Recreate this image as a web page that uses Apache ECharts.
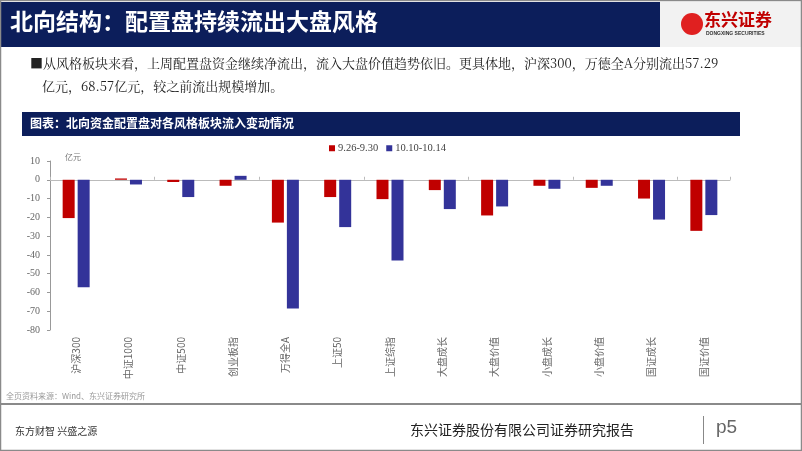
<!DOCTYPE html>
<html><head><meta charset="utf-8">
<script src="https://cdn.jsdelivr.net/npm/echarts@6/dist/echarts.min.js"></script>
<style>html,body{margin:0;padding:0;background:#fff}#c{width:802px;height:451px}</style>
</head><body><div id="c"></div>
<script>
const categories = ['沪深300','中证1000','中证500','创业板指','万得全A','上证50','上证综指','大盘成长','大盘价值','小盘成长','小盘价值','国证成长','国证价值'];
const seriesNames = ['9.26-9.30','10.10-10.14'];
const week1 = [-20.4, 0.7, -1.2, -3.2, -22.8, -9.2, -10.3, -5.5, -19.0, -3.2, -4.3, -10.0, -27.2];
const week2 = [-57.29, -2.5, -9.2, 2.1, -68.57, -25.2, -43.0, -15.6, -14.2, -4.8, -3.2, -21.2, -18.8];
const yTicks = {min: -80, max: 10, interval: 10};

const chart = echarts.init(document.getElementById('c'), null, {renderer: 'canvas'});
const serif = '"Liberation Serif","Noto Serif CJK SC","Noto Sans CJK SC",serif';
const cjk = '"Noto Sans CJK SC",sans-serif';
chart.setOption({
  animation: false,
  backgroundColor: '#fff',
  grid: {left: 50, right: 72, top: 161, bottom: 121, containLabel: false},
  legend: {
    data: seriesNames, top: 138, left: 324, itemWidth: 6, itemHeight: 6, itemGap: 8,
    icon: 'rect', textStyle: {fontFamily: serif, fontSize: 10.5, color: '#444', padding: [0, 0, 0, -2]}
  },
  xAxis: [{
    type: 'category', data: categories, position: 'bottom',
    axisLine: {show: false, onZero: false}, axisTick: {show: false},
    axisLabel: {rotate: 90, fontSize: 10, color: '#666', fontFamily: cjk, margin: 7, interval: 0}
  }, {
    type: 'category', data: categories, position: 'bottom',
    axisLine: {show: true, onZero: true, lineStyle: {color: '#bbb', width: 1}},
    axisTick: {show: true, inside: true, length: 3, lineStyle: {color: '#bbb'}},
    axisLabel: {show: false}
  }],
  yAxis: {
    type: 'value', min: yTicks.min, max: yTicks.max, interval: yTicks.interval,
    axisLine: {show: true, lineStyle: {color: '#999'}},
    axisTick: {show: true, length: 3, lineStyle: {color: '#999'}},
    splitLine: {show: false},
    axisLabel: {fontSize: 10, color: '#666', fontFamily: serif, margin: 10}
  },
  series: [
    {name: seriesNames[0], type: 'bar', data: week1, barWidth: 12, barGap: '25%', xAxisIndex: 0, itemStyle: {color: '#C00000'}},
    {name: seriesNames[1], type: 'bar', data: week2, barWidth: 12, barGap: '25%', xAxisIndex: 0, itemStyle: {color: '#333399'}}
  ],
  graphic: [
    {type: 'rect', shape: {x: 0.5, y: 0.5, width: 801, height: 450}, style: {fill: 'none', stroke: '#8a8a8a', lineWidth: 1.5}, z: 100},
    {type: 'rect', shape: {x: 0, y: 2, width: 660, height: 45}, style: {fill: '#0C1E5B'}},
    {type: 'rect', shape: {x: 660, y: 2, width: 142, height: 45}, style: {fill: '#F2F2F2'}},
    {type: 'text', left: 10, top: 10, style: {text: '北向结构：配置盘持续流出大盘风格', fill: '#fff', font: 'bold 23px "Noto Sans CJK SC"'}},
    {type: 'circle', shape: {cx: 692, cy: 24, r: 11}, style: {fill: '#E02020'}},
    {type: 'text', left: 704, top: 11, style: {text: '东兴证券', fill: '#C00000', font: 'bold 17px "Noto Sans CJK SC"'}},
    {type: 'text', left: 706, top: 31, style: {text: 'DONGXING SECURITIES', fill: '#333', font: 'bold 5px "Liberation Sans"'}},
    {type: 'text', left: 30, top: 57, style: {text: '■从风格板块来看，上周配置盘资金继续净流出，流入大盘价值趋势依旧。更具体地，沪深300，万德全A分别流出57.29', fill: '#222', font: '13px "Noto Serif CJK SC","Liberation Serif","Noto Sans CJK SC"'}},
    {type: 'text', left: 42, top: 80, style: {text: '亿元，68.57亿元，较之前流出规模增加。', fill: '#222', font: '13px "Noto Serif CJK SC","Liberation Serif","Noto Sans CJK SC"'}},
    {type: 'rect', shape: {x: 22, y: 112, width: 718, height: 24}, style: {fill: '#0C1E5B'}},
    {type: 'text', left: 30, top: 117, style: {text: '图表：北向资金配置盘对各风格板块流入变动情况', fill: '#fff', font: 'bold 12px "Noto Sans CJK SC"'}},
    {type: 'text', left: 65, top: 153, style: {text: '亿元', fill: '#777', font: '8px "Noto Sans CJK SC"'}},
    {type: 'text', left: 6, top: 392, style: {text: '全页资料来源：Wind、东兴证券研究所', fill: '#999', font: '8px "Noto Sans CJK SC"'}},
    {type: 'rect', shape: {x: 0, y: 403, width: 802, height: 2}, style: {fill: '#8a8a8a'}},
    {type: 'text', left: 15, top: 426, style: {text: '东方财智 兴盛之源', fill: '#333', font: '10px "Noto Sans CJK SC"'}},
    {type: 'text', left: 410, top: 423, style: {text: '东兴证券股份有限公司证券研究报告', fill: '#222', font: '14px "Noto Sans CJK SC"'}},
    {type: 'rect', shape: {x: 703, y: 416, width: 1, height: 28}, style: {fill: '#888'}},
    {type: 'text', left: 716, top: 418, style: {text: 'p5', fill: '#666', font: '19px "Liberation Sans"'}}
  ]
});
</script></body></html>
